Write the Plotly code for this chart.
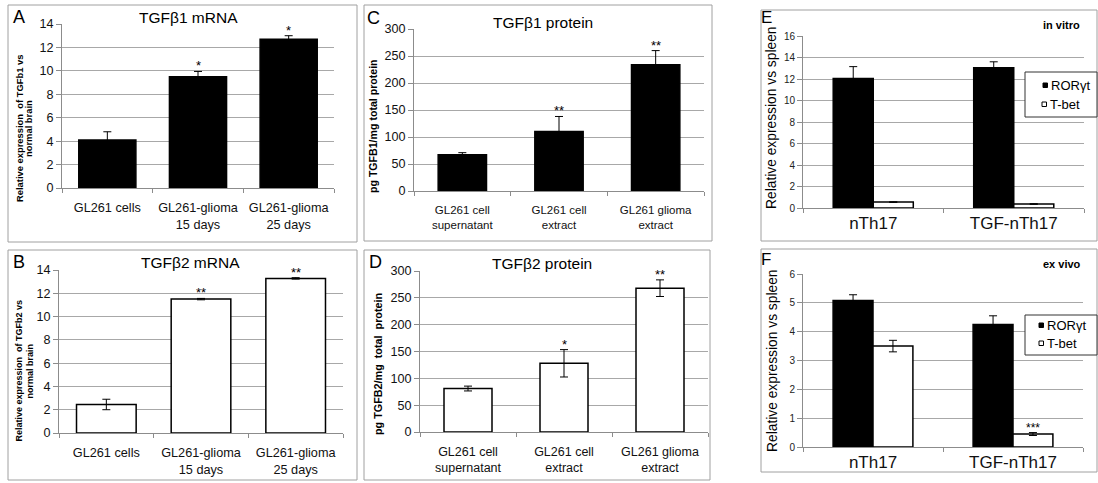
import plotly.graph_objects as go

W, H = 1098, 483

# ---------------- data ----------------
mrna_cats = ["GL261 cells", "GL261-glioma<br>15 days", "GL261-glioma<br>25 days"]
tgfb1_mrna = [4.1, 9.5, 12.7]
tgfb1_mrna_err = [0.7, 0.45, 0.3]
tgfb1_mrna_sig = ["", "*", "*"]
tgfb2_mrna = [2.45, 11.5, 13.28]
tgfb2_mrna_err = [0.45, 0.06, 0.06]
tgfb2_mrna_sig = ["", "**", "**"]

prot_cats = ["GL261 cell<br>supernatant", "GL261 cell<br>extract", "GL261 glioma<br>extract"]
tgfb1_prot = [67, 110, 234]
tgfb1_prot_err = [4, 28, 26]
tgfb1_prot_sig = ["", "**", "**"]
tgfb2_prot = [81, 128, 268]
tgfb2_prot_err = [4.5, 25.5, 15.5]
tgfb2_prot_sig = ["", "*", "**"]

th_cats = ["nTh17", "TGF-nTh17"]
series_names = ["RORγt", "T-bet"]
invitro_ror = [12.05, 13.05]
invitro_ror_err = [1.1, 0.55]
invitro_tbet = [0.55, 0.37]
invitro_tbet_err = [0.03, 0.03]
exvivo_ror = [5.08, 4.25]
exvivo_ror_err = [0.2, 0.3]
exvivo_tbet = [3.5, 0.45]
exvivo_tbet_err = [0.2, 0.05]
exvivo_tbet_sig = ["", "***"]

FONT = "Liberation Sans, Arial, sans-serif"
GRID = "#a8a8a8"
AXL = "#8c8c8c"
FRAME = "#a0a0a0"


def xd(a, b):
    return [a / W, b / W]


def yd(top, bottom):
    return [1 - bottom / H, 1 - top / H]


fig = go.Figure()

panels = [
    # axis suffix, x domain, y domain, categories, values, errors, significance, fill, bar width, ymax, dtick, x-label size
    ("", xd(62, 334), yd(24, 188), mrna_cats, tgfb1_mrna, tgfb1_mrna_err, tgfb1_mrna_sig, "black", 0.63, 14, 2, 12.7),
    ("2", xd(59, 343), yd(270, 433), mrna_cats, tgfb2_mrna, tgfb2_mrna_err, tgfb2_mrna_sig, "white", 0.63, 14, 2, 12.7),
    ("3", xd(414, 704), yd(29, 191), prot_cats, tgfb1_prot, tgfb1_prot_err, tgfb1_prot_sig, "black", 0.5, 300, 50, 11.5),
    ("4", xd(420, 708), yd(271, 432), prot_cats, tgfb2_prot, tgfb2_prot_err, tgfb2_prot_sig, "white", 0.5, 300, 50, 12.5),
]

annotations = []
layout_axes = {}

for name, xdom, ydom, cats, vals, errs, sig, fill, bw, ymax, dt, xfs in panels:
    xa = "x" + name
    ya = "y" + name
    fig.add_trace(go.Bar(
        x=cats, y=vals, width=bw, xaxis=xa, yaxis=ya, showlegend=False,
        marker=dict(color=fill, line=dict(color="black", width=1.5)),
        error_y=dict(type="data", array=errs, color="black", thickness=1, width=4),
    ))
    for i, s in enumerate(sig):
        if s:
            annotations.append(dict(x=cats[i], y=vals[i] + errs[i], xref=xa, yref=ya,
                                    text=s, showarrow=False, yanchor="bottom", yshift=-4,
                                    font=dict(size=13, color="black", family=FONT)))
    layout_axes["xaxis" + name] = dict(
        domain=xdom, anchor=ya, type="category", showline=True, linecolor=AXL,
        ticks="outside", tickson="boundaries", ticklen=4, tickcolor=AXL, tickangle=0,
        ticklabelstandoff=8,
        showgrid=False, tickfont=dict(size=xfs, color="#111", family=FONT),
        range=[-0.5, 2.5], fixedrange=True, automargin=False)
    layout_axes["yaxis" + name] = dict(
        domain=ydom, anchor=xa, range=[0, ymax], dtick=dt, showgrid=True,
        gridcolor=GRID, gridwidth=1, showline=True, linecolor=AXL, ticks="outside",
        ticklen=5, tickcolor=AXL, zeroline=False, automargin=False,
        tickfont=dict(size=12.6, color="#111", family=FONT))

# grouped panels E and F
grp = [
    ("5", xd(803, 1084), yd(36, 208), invitro_ror, invitro_ror_err, invitro_tbet, invitro_tbet_err, ["", ""], 16, 2),
    ("6", xd(803, 1083), yd(274, 447), exvivo_ror, exvivo_ror_err, exvivo_tbet, exvivo_tbet_err, exvivo_tbet_sig, 6, 1),
]
bw = 0.285
for name, xdom, ydom, ror, rore, tb, tbe, sig, ymax, dt in grp:
    xa = "x" + name
    ya = "y" + name
    fig.add_trace(go.Bar(
        x=th_cats, y=ror, width=bw, offset=-bw, xaxis=xa, yaxis=ya, name=series_names[0],
        showlegend=False, marker=dict(color="black", line=dict(color="black", width=1.5)),
        error_y=dict(type="data", array=rore, color="black", thickness=1, width=4)))
    fig.add_trace(go.Bar(
        x=th_cats, y=tb, width=bw, offset=0, xaxis=xa, yaxis=ya, name=series_names[1],
        showlegend=False, marker=dict(color="white", line=dict(color="black", width=1.5)),
        error_y=dict(type="data", array=tbe, color="black", thickness=1, width=4)))
    for i, s in enumerate(sig):
        if s:
            annotations.append(dict(x=i + bw / 2, y=tb[i] + tbe[i], xref=xa, yref=ya,
                                    text=s, showarrow=False, yanchor="bottom", yshift=-4,
                                    font=dict(size=12, color="black", family=FONT)))
    layout_axes["xaxis" + name] = dict(
        domain=xdom, anchor=ya, type="category", showline=True, linecolor=AXL,
        ticks="outside", tickson="boundaries", ticklen=4, tickcolor=AXL, tickangle=0,
        showgrid=False, tickfont=dict(size=17, color="#111", family=FONT),
        range=[-0.5, 1.5], fixedrange=True, automargin=False)
    layout_axes["yaxis" + name] = dict(
        domain=ydom, anchor=xa, range=[0, ymax], dtick=dt, showgrid=True,
        gridcolor=GRID, gridwidth=1, showline=True, linecolor=AXL, ticks="outside",
        ticklen=5, tickcolor=AXL, zeroline=False, automargin=False,
        tickfont=dict(size=10, color="#222", family=FONT))


def pa(x, y, text, size, bold=False, angle=0, xanchor="center", yanchor="middle", color="black"):
    t = f"<b>{text}</b>" if bold else text
    annotations.append(dict(x=x / W, y=1 - y / H, xref="paper", yref="paper", text=t,
                            showarrow=False, textangle=angle, xanchor=xanchor, yanchor=yanchor,
                            font=dict(size=size, color=color, family=FONT)))


# panel letters
pa(19, 17, "A", 18)
pa(19, 262, "B", 18)
pa(373, 18, "C", 18)
pa(375, 262, "D", 18)
pa(766, 18, "E", 17)
pa(766, 259, "F", 17)

# titles
pa(188, 17, "TGFβ1 mRNA", 15.5)
pa(190, 262, "TGFβ2 mRNA", 15.5)
pa(543, 22, "TGFβ1 protein", 15.5)
pa(542, 263, "TGFβ2 protein", 15.5)
pa(1061, 25, "in vitro", 11, bold=True)
pa(1062, 264, "ex vivo", 11, bold=True)

# y-axis titles
pa(20, 129, "Relative expression  of TGFb1 vs", 9.4, bold=True, angle=-90)
pa(29, 129, "normal brain", 9.4, bold=True, angle=-90)
pa(18.5, 371, "Relative expression  of TGFb2 vs", 9, bold=True, angle=-90)
pa(29.5, 371, "normal brain", 9, bold=True, angle=-90)
pa(373, 126, "pg TGFB1/mg total protein", 10.6, bold=True, angle=-90)
pa(378, 364, "pg TGFB2/mg  total  protein", 10.8, bold=True, angle=-90)
pa(772, 118, "Relative expression vs spleen", 13.8, angle=-90)
pa(772, 361, "Relative expression vs spleen", 13.8, angle=-90)

shapes = []


def frame(x0, y0, x1, y1):
    shapes.append(dict(type="rect", xref="paper", yref="paper", x0=x0 / W, x1=x1 / W,
                       y0=1 - y1 / H, y1=1 - y0 / H, line=dict(color=FRAME, width=1)))


frame(8, 5, 357, 242)
frame(8, 250, 357, 480)
frame(364, 5, 712, 241)
frame(364, 250, 710, 480)
frame(761, 10, 1097, 241)
frame(761, 249, 1097, 472)


# compact legends drawn as in the original figure
def legend(x0, y0, x1, y1, rows):
    shapes.append(dict(type="rect", xref="paper", yref="paper", x0=x0 / W, x1=x1 / W,
                       y0=1 - y1 / H, y1=1 - y0 / H, line=dict(color="#333", width=1),
                       fillcolor="white", layer="above"))
    for (sx, sy, fill, label) in rows:
        shapes.append(dict(type="rect", xref="paper", yref="paper", x0=(sx - 2) / W,
                           x1=(sx + 2.5) / W, y0=1 - (sy + 2.5) / H, y1=1 - (sy - 2) / H,
                           line=dict(color="black", width=1), fillcolor=fill, layer="above"))
        pa(sx + 4, sy, label, 13, xanchor="left")


legend(1025, 72, 1097, 117, [(1045, 85, "black", series_names[0]), (1044, 104, "white", series_names[1])])
legend(1025, 315, 1097, 355, [(1041, 325, "black", series_names[0]), (1041, 343, "white", series_names[1])])

fig.update_layout(
    width=W, height=H, margin=dict(l=0, r=0, t=0, b=0, pad=0, autoexpand=False),
    paper_bgcolor="white", plot_bgcolor="white", barmode="overlay",
    font=dict(family=FONT, color="black"),
    annotations=annotations, shapes=shapes, showlegend=False,
    **layout_axes,
)

fig.write_html("out.html",
               config={"displayModeBar": False, "staticPlot": True},
               post_script="document.body.style.margin='0px';document.body.style.overflow='hidden';")
